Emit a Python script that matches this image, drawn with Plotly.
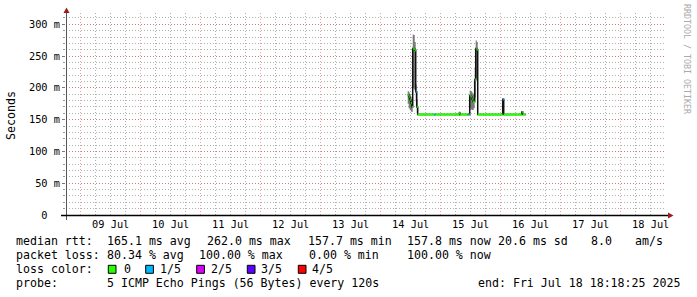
import plotly.graph_objects as go
from datetime import datetime

# ---------------- data ----------------
sample_times = [
    "2025-07-14 10:48", "2025-07-14 11:12", "2025-07-14 11:36", "2025-07-14 12:00",
    "2025-07-14 12:24", "2025-07-14 12:48", "2025-07-14 13:12", "2025-07-14 13:36",
    "2025-07-14 14:00", "2025-07-14 14:24", "2025-07-14 14:48", "2025-07-14 21:24",
    "2025-07-14 21:48", "2025-07-15 07:24", "2025-07-15 07:48", "2025-07-15 10:48",
    "2025-07-15 11:12", "2025-07-15 11:36", "2025-07-15 12:00", "2025-07-15 12:24",
    "2025-07-15 12:48", "2025-07-15 13:12", "2025-07-15 13:36", "2025-07-15 14:00",
    "2025-07-15 14:24", "2025-07-15 14:48", "2025-07-16 00:48", "2025-07-16 01:12",
    "2025-07-16 08:24", "2025-07-16 08:48",
]
median_ms = [189, 186, 181, 176, 170, 262, 261, 259, 194, 170, 158, 158,
             158, 160, 158, 158, 158, 188, 186, 182, 178, 178, 213, 262,
             260, 158, 182, 158, 162, 158]
smoke_low_ms = [175, 168, 165, 163, 162, 200, 198, 196, 178, 160, 157.5, 157.5,
                157.5, 156, 157.5, 157.5, 157.5, 168, 166, 165, 165, 168, 185, 215,
                210, 157.5, 158, 157.5, 159, 157.5]
smoke_high_ms = [195, 193, 190, 186, 182, 284, 283, 272, 205, 182, 158.5, 158.5,
                 158.5, 163, 158.5, 158.5, 158.5, 196, 195, 193, 190, 192, 232, 275,
                 272, 158.5, 183, 158.5, 163, 158.5]
loss_pings = [0, 0, 0, 0, 0, 0, 0, 0, 1, 0, 0, 1,
              0, 0, 0, 1, 0, 0, 0, 0, 0, 0, 0, 0,
              0, 0, 1, 0, 0, 0]
data_end = "2025-07-16 10:00"

x_start = "2025-07-08 18:07"
x_end = "2025-07-18 18:07"

loss_labels = ["0", "1/5", "2/5", "3/5", "4/5"]
loss_colors = ["#26ff00", "#00b8ff", "#dd00ff", "#5e00ff", "#ff0000"]

y_tick_values = [0, 50, 100, 150, 200, 250, 300]
y_tick_labels = ["0\u00a0\u00a0", "50 m", "100 m", "150 m", "200 m", "250 m", "300 m"]

median_stats = ["median rtt:", "165.1 ms avg", "262.0 ms max", "157.7 ms min",
                "157.8 ms now", "20.6 ms sd", "8.0", "am/s"]
loss_stats = ["packet loss:", "80.34 % avg", "100.00 % max", "0.00 % min", "100.00 % now"]
probe_info = ["probe:", "5 ICMP Echo Pings (56 Bytes) every 120s",
              "end: Fri Jul 18 18:18:25 2025"]
y_title = "Seconds"
watermark = "RRDTOOL / TOBI OETIKER"

# ---------------- geometry helpers (pixels -> paper) ----------------
W, H = 697, 297
L, R, T, B = 66, 666, 13, 215


def px(xp):
    return (xp - L) / (R - L)


def py(yp):
    return (B - yp) / (B - T)


t = [datetime.strptime(s, "%Y-%m-%d %H:%M") for s in sample_times]
t_end = datetime.strptime(data_end, "%Y-%m-%d %H:%M")
t_ext = t + [t_end]

fig = go.Figure()

# smoke (min..max band)
fig.add_trace(go.Scatter(x=t_ext, y=smoke_low_ms + [smoke_low_ms[-1]], mode="lines",
                         line=dict(width=0, shape="hv", color="#7a7a7a"),
                         hoverinfo="skip", showlegend=False))
fig.add_trace(go.Scatter(x=t_ext, y=smoke_high_ms + [smoke_high_ms[-1]], mode="lines",
                         line=dict(width=0, shape="hv", color="#7a7a7a"),
                         fill="tonexty", fillcolor="#7a7a7a",
                         hoverinfo="skip", showlegend=False))
# median connector line
fig.add_trace(go.Scatter(x=t_ext, y=median_ms + [median_ms[-1]], mode="lines",
                         line=dict(width=1.5, shape="hv", color="#111111"),
                         hoverinfo="skip", showlegend=False))
# median coloured by loss
for lvl, col in enumerate(loss_colors):
    xs, ys = [], []
    for i in range(len(t)):
        if loss_pings[i] == lvl:
            xs += [t_ext[i], t_ext[i + 1], None]
            ys += [median_ms[i], median_ms[i], None]
    if xs:
        fig.add_trace(go.Scatter(x=xs, y=ys, mode="lines",
                                 line=dict(width=2.2, color=col),
                                 hoverinfo="skip", showlegend=False))

mono = "DejaVu Sans Mono"
major_grid = "rgba(225,80,80,0.55)"
minor_grid = "#b0b0b0"
dash = "1px,2px"

fig.update_layout(
    width=W, height=H, autosize=False,
    margin=dict(l=L, r=W - R, t=T, b=H - B, pad=0),
    paper_bgcolor="white", plot_bgcolor="white",
    showlegend=False,
    xaxis=dict(type="date", range=[x_start, x_end], dtick=86400000, tick0="2025-07-09",
               ticklabelmode="period", tickformat="%d %b", ticklabelstandoff=2,
               showgrid=True, gridcolor=major_grid, griddash=dash, gridwidth=1,
               minor=dict(dtick=21600000, showgrid=True, gridcolor=minor_grid, griddash=dash),
               ticks="", showline=False, zeroline=False,
               tickfont=dict(family=mono, size=10.3, color="#000000"), fixedrange=True),
    yaxis=dict(range=[0, 317.8], tickvals=y_tick_values, ticktext=y_tick_labels,
               showgrid=True, gridcolor=major_grid, griddash=dash, gridwidth=1,
               minor=dict(dtick=10, showgrid=True, gridcolor=minor_grid, griddash=dash,
                          ticks="outside", ticklen=2, tickcolor="#999999"),
               ticks="outside", ticklen=3, tickcolor="#777777",
               showline=False, zeroline=False,
               tickfont=dict(family=mono, size=10.3, color="#000000"), fixedrange=True),
)

arrow_col = "#9b1c1c"
shapes = [
    # y axis line
    dict(type="line", xref="paper", yref="paper", x0=px(66.5), x1=px(66.5),
         y0=py(220), y1=py(10), line=dict(color="#555555", width=1)),
    # x axis line
    dict(type="line", xref="paper", yref="paper", x0=px(61), x1=px(669),
         y0=py(215.5), y1=py(215.5), line=dict(color="#000000", width=1.5)),
    # arrows
    dict(type="path", xref="paper", yref="paper",
         path=f"M {px(63.5)} {py(13)} L {px(69.5)} {py(13)} L {px(66.5)} {py(7.5)} Z",
         fillcolor=arrow_col, line=dict(width=0)),
    dict(type="path", xref="paper", yref="paper",
         path=f"M {px(668)} {py(212.5)} L {px(668)} {py(218.5)} L {px(673.5)} {py(215.5)} Z",
         fillcolor=arrow_col, line=dict(width=0)),
]

annotations = []


def text_at(x, y, s, size=11.6, color="#000000", anchor="left", angle=0, family=mono):
    annotations.append(dict(xref="paper", yref="paper", x=px(x), y=py(y),
                            text=s.replace(" ", "\u00a0"), showarrow=False,
                            xanchor=anchor, yanchor="middle", textangle=angle,
                            borderpad=0, borderwidth=0,
                            font=dict(family=family, size=size, color=color)))


# legend text lines
line1_x = [16, 106.5, 206.5, 307.5, 406.5, 497.5, 591, 634.5]
for s, x in zip(median_stats, line1_x):
    text_at(x, 241.3, s)
line2_x = [16, 106.5, 199, 309, 406.5]
for s, x in zip(loss_stats, line2_x):
    text_at(x, 255.3, s)
text_at(16, 269.3, "loss color:")
box_x = [108.3, 145.7, 196.7, 247.3, 298.3]
label_x = [123.5, 159.5, 210.5, 261, 311.5]
for lab, col, bx, lx in zip(loss_labels, loss_colors, box_x, label_x):
    shapes.append(dict(type="rect", xref="paper", yref="paper",
                       x0=px(bx), x1=px(bx + 7.7), y0=py(273.3), y1=py(265.3),
                       fillcolor=col, line=dict(color="#000000", width=1)))
    text_at(lx, 269.3, lab)
text_at(16, 283.3, probe_info[0])
text_at(106.5, 283.3, probe_info[1])
text_at(477.5, 283.3, probe_info[2])

# axis title and watermark
text_at(11, 116, y_title, size=11.6, anchor="center", angle=-90)
text_at(687, 59, watermark, size=8.3, color="#aaaaaa", anchor="center", angle=90)

fig.update_layout(shapes=shapes, annotations=annotations)
fig.write_html("out.html")
